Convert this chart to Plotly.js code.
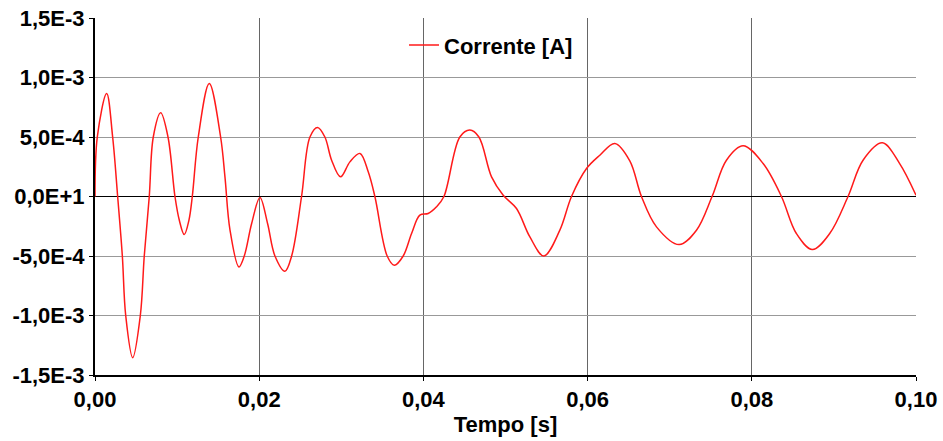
<!DOCTYPE html>
<html>
<head>
<meta charset="utf-8">
<script src="https://cdn.plot.ly/plotly-3.0.1.min.js"></script>
<style>html,body{margin:0;padding:0;background:#fff;}#chart{width:943px;height:441px;}</style>
</head>
<body>
<div id="chart"></div>
<script>
// Time [s]
var tempo = [0, 0.00028, 0.00142, 0.00215, 0.00276, 0.00333, 0.00374, 0.00459, 0.00552, 0.0060, 0.00661, 0.0071, 0.0080, 0.00889, 0.00974, 0.01027, 0.01087, 0.01144, 0.01185, 0.01258, 0.01392, 0.0153, 0.01583, 0.01644, 0.01753, 0.01818, 0.01908, 0.02009, 0.02102, 0.02192, 0.02313, 0.02395, 0.02516, 0.02618, 0.02711, 0.028, 0.02882, 0.02991, 0.03105, 0.03227, 0.03328, 0.03409, 0.03559, 0.03645, 0.03754, 0.03856, 0.03957, 0.04058, 0.0416, 0.0425, 0.04444, 0.04566, 0.04676, 0.0483, 0.04972, 0.05134, 0.05297, 0.05467, 0.05662, 0.05804, 0.05987, 0.06149, 0.06331, 0.06514, 0.06656, 0.06839, 0.07115, 0.07326, 0.07516, 0.07691, 0.07894, 0.08138, 0.08361, 0.08543, 0.08738, 0.08949, 0.09172, 0.09355, 0.0959, 0.09801, 0.1];
// Current [mA] (scaled to A below)
var correnteMilli = [0, 0.5, 0.866, 0.5, 0, -0.5, -1.0, -1.354, -1.0, -0.5, 0, 0.5, 0.703, 0.5, 0, -0.2, -0.32, -0.2, 0, 0.5, 0.95, 0.5, 0.165, -0.28, -0.592, -0.5, -0.227, -0.008, -0.227, -0.5, -0.628, -0.5, 0, 0.5, 0.58, 0.5, 0.305, 0.165, 0.291, 0.362, 0.207, 0, -0.5, -0.578, -0.5, -0.311, -0.157, -0.143, -0.087, 0, 0.5, 0.558, 0.5, 0.165, 0.011, -0.101, -0.34, -0.5, -0.283, 0, 0.235, 0.347, 0.446, 0.3, 0, -0.255, -0.404, -0.283, 0, 0.305, 0.426, 0.277, 0, -0.311, -0.446, -0.311, 0, 0.305, 0.451, 0.277, 0.01];
var corrente = correnteMilli.map(function (v) { return v * 1e-3; });

var xTickVals = [0, 0.02, 0.04, 0.06, 0.08, 0.10];
var xTickText = ["0,00", "0,02", "0,04", "0,06", "0,08", "0,10"];
var yTickVals = [-1.5e-3, -1.0e-3, -5.0e-4, 0, 5.0e-4, 1.0e-3, 1.5e-3];
var yTickText = ["-1,5E-3", "-1,0E-3", "-5,0E-4", "0,0E+1", "5,0E-4", "1,0E-3", "1,5E-3"];

var fontFam = "Liberation Sans, Arial, sans-serif";
var trace = {
  x: tempo, y: corrente, type: 'scatter', mode: 'lines',
  name: 'Corrente [A]',
  line: {color: '#ff1a1a', width: 1.5, shape: 'spline', smoothing: 1, simplify: false}
};
var layout = {
  width: 943, height: 441,
  margin: {l: 95, r: 27, t: 18, b: 66},
  paper_bgcolor: '#fff', plot_bgcolor: '#fff',
  font: {family: fontFam, size: 22, color: '#000', weight: 'bold'},
  showlegend: true,
  legend: {x: 0.3764, y: 0.924, xanchor: 'left', yanchor: 'middle', bgcolor: 'rgba(0,0,0,0)',
           font: {family: fontFam, size: 22, color: '#000', weight: 'bold'}},
  xaxis: {
    range: [0, 0.1], tickvals: xTickVals, ticktext: xTickText,
    showgrid: true, gridcolor: '#666', gridwidth: 1,
    zeroline: false, showline: true, linecolor: '#000', linewidth: 2,
    ticks: 'outside', ticklen: 4, tickcolor: '#000', tickwidth: 1,
    tickfont: {family: fontFam, size: 22, weight: 'bold'},
    title: {text: 'Tempo [s]', font: {family: fontFam, size: 22, weight: 'bold'}, standoff: 5},
    fixedrange: true
  },
  yaxis: {
    range: [-1.5e-3, 1.5e-3], tickvals: yTickVals, ticktext: yTickText,
    showgrid: true, gridcolor: '#999', gridwidth: 1,
    zeroline: true, zerolinecolor: '#000', zerolinewidth: 1.5,
    showline: true, linecolor: '#000', linewidth: 2,
    ticks: 'outside', ticklen: 4, tickcolor: '#000', tickwidth: 1,
    tickfont: {family: fontFam, size: 22, weight: 'bold'},
    fixedrange: true
  }
};
Plotly.newPlot('chart', [trace], layout, {displayModeBar: false, staticPlot: true});
</script>
</body>
</html>
